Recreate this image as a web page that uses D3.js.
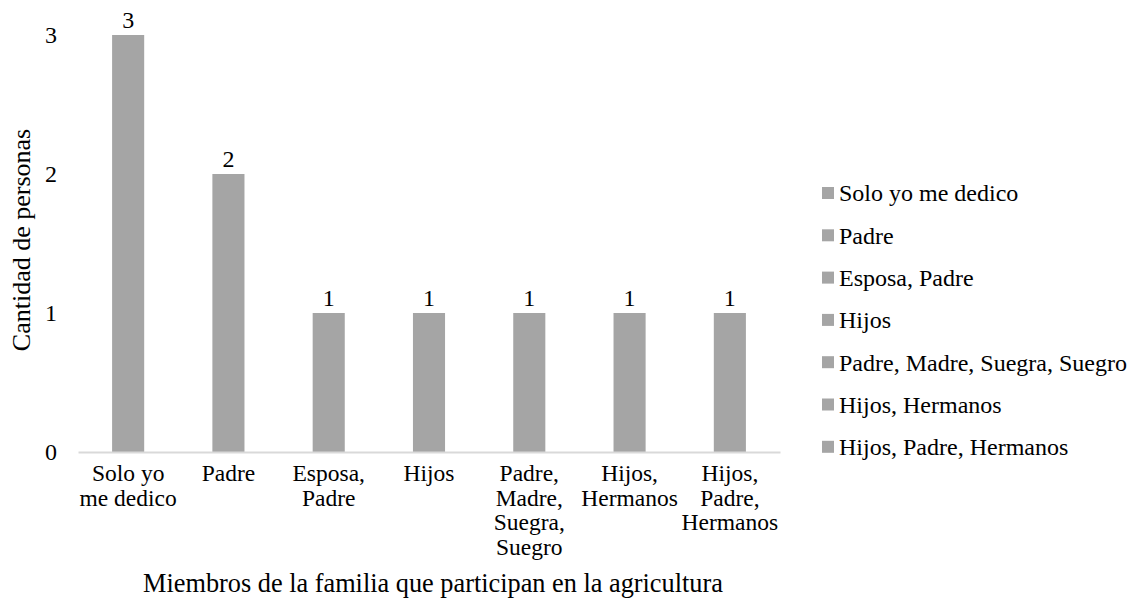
<!DOCTYPE html>
<html>
<head>
<meta charset="utf-8">
<script src="https://cdn.jsdelivr.net/npm/d3@7"></script>
<style>
  html, body { margin: 0; padding: 0; background: #fff; }
  svg { display: block; }
</style>
</head>
<body>
<svg id="chart" width="1128" height="603"></svg>
<script>
const categories = ["Solo yo me dedico", "Padre", "Esposa, Padre", "Hijos", "Padre, Madre, Suegra, Suegro", "Hijos, Hermanos", "Hijos, Padre, Hermanos"];
const categoryLines = [["Solo yo", "me dedico"], ["Padre"], ["Esposa,", "Padre"], ["Hijos"], ["Padre,", "Madre,", "Suegra,", "Suegro"], ["Hijos,", "Hermanos"], ["Hijos,", "Padre,", "Hermanos"]];
const values = [3, 2, 1, 1, 1, 1, 1];
const yTicks = [0, 1, 2, 3];
const xTitle = "Miembros de la familia que participan en la agricultura";
const yTitle = "Cantidad de personas";

const FONT = "'Liberation Serif', 'Times New Roman', 'DejaVu Serif', serif";
const svg = d3.select("#chart").attr("font-family", FONT);
const barColor = "#a5a5a5";

const x = d3.scaleBand().domain(categories).range([78, 780]).paddingInner(0.68).paddingOuter(0.34);
const y = d3.scaleLinear().domain([0, 3]).range([452, 35]);

function txt(sel, size) {
  return sel.attr("font-family", FONT).style("font-family", FONT).style("font-size", size + "px").attr("fill", "#000");
}

// y tick labels
txt(svg.append("g").selectAll("text").data(yTicks).join("text")
  .attr("x", 51).attr("y", d => y(d)).attr("dy", "0.35em")
  .attr("text-anchor", "middle").text(d => d), 24);

// bars
svg.append("g").selectAll("rect").data(values).join("rect")
  .attr("x", (d, i) => x(categories[i])).attr("width", x.bandwidth())
  .attr("y", d => y(d)).attr("height", d => y(0) - y(d))
  .attr("fill", barColor);

// axis line
const xAxis = d3.axisBottom(x).tickSize(0).tickFormat("");
const ax = svg.append("g").attr("transform", `translate(0,${y(0)})`).call(xAxis);
ax.select(".domain").attr("stroke", "#d9d9d9").attr("stroke-width", 2);

// value labels
txt(svg.append("g").selectAll("text").data(values).join("text")
  .attr("x", (d, i) => x(categories[i]) + x.bandwidth() / 2)
  .attr("y", d => y(d) - 7)
  .attr("text-anchor", "middle").text(d => d), 24);

// category labels
const cl = txt(svg.append("g").selectAll("text").data(categoryLines).join("text")
  .attr("text-anchor", "middle")
  .attr("transform", (d, i) => `translate(${x(categories[i]) + x.bandwidth() / 2},481)`), 23.5);
cl.selectAll("tspan").data(d => d).join("tspan")
  .attr("x", 0).attr("y", (d, j) => j * 24.5).text(d => d);

// x title
txt(svg.append("text").attr("x", 433).attr("y", 592).attr("text-anchor", "middle")
  .text(xTitle), 26.3);

// y title
txt(svg.append("text").attr("transform", "translate(30,240) rotate(-90)")
  .attr("text-anchor", "middle").text(yTitle), 26);

// legend
const lg = svg.append("g").selectAll("g").data(categories).join("g")
  .attr("transform", (d, i) => `translate(822,${193 + i * 42.3})`);
lg.append("rect").attr("x", 0).attr("y", -6).attr("width", 12).attr("height", 12).attr("fill", barColor);
txt(lg.append("text").attr("x", 17).attr("dy", "0.35em").text(d => d), 24);
</script>
</body>
</html>
